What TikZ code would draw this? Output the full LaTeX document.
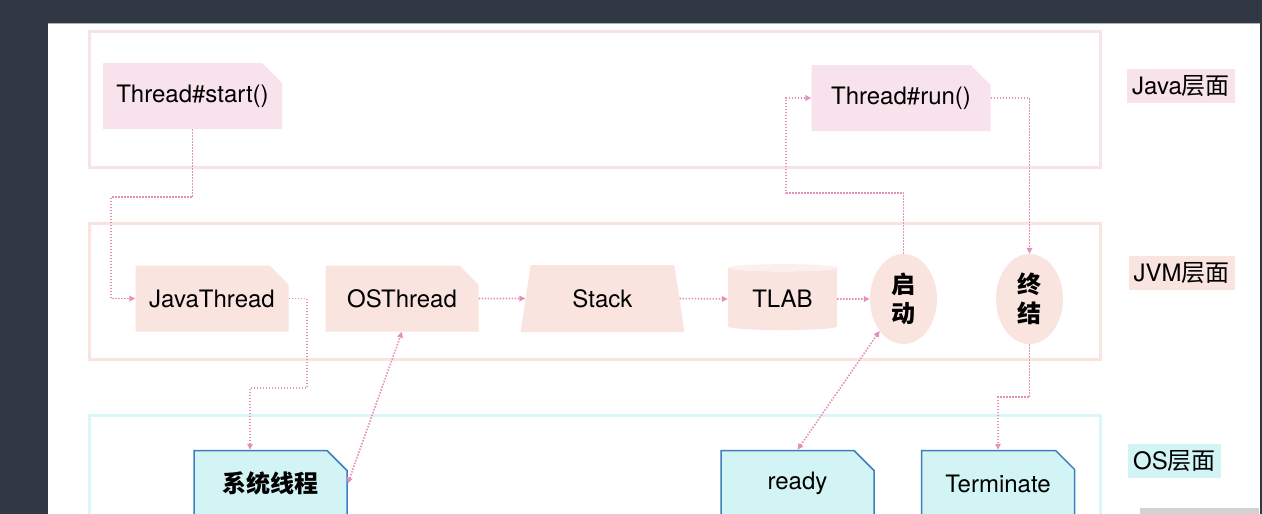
\documentclass[tikz,border=0pt]{standalone}
\usepackage{fontspec}
\setmainfont{TeX Gyre Heros}
\newfontfamily\cjk{Noto Sans CJK SC}
\usetikzlibrary{shapes.geometric,shapes.misc,arrows.meta,calc}

\definecolor{darkbg}{HTML}{2F3843}
\definecolor{javapink}{HTML}{F8E2EB}
\definecolor{jvmpeach}{HTML}{FAE4E0}
\definecolor{oscyan}{HTML}{D2F4F4}
\definecolor{osblue}{HTML}{3D7EBF}
\definecolor{linkpink}{HTML}{E590BA}

\tikzset{
  txt/.style={font=\fontsize{24}{29}\selectfont, text=black, inner sep=0pt},
  layer/.style={line width=3pt},
  notebox/.style={txt, chamfered rectangle, chamfered rectangle corners=north east,
    chamfered rectangle xsep=10pt, chamfered rectangle ysep=10pt,
    minimum width=#1, minimum height=66pt},
  javabox/.style={notebox=179pt, fill=javapink},
  jvmbox/.style={notebox=153pt, fill=jvmpeach},
  osbox/.style={notebox=153pt, fill=oscyan, draw=osblue, line width=1.5pt},
  stackbox/.style={txt, trapezium, trapezium stretches=true, trapezium left angle=77,
    trapezium right angle=77, minimum width=165pt, minimum height=67pt, fill=jvmpeach},
  tlabbox/.style={txt, cylinder, shape border rotate=90, aspect=0.12,
    minimum width=109pt, minimum height=66pt, cylinder uses custom fill,
    cylinder body fill=jvmpeach, cylinder end fill=jvmpeach!55},
  stepoval/.style={txt, ellipse, align=center, minimum width=67pt, minimum height=90pt, fill=jvmpeach},
  tag/.style={txt, fill=#1, minimum height=34pt, inner xsep=5pt},
  flow/.style={draw=linkpink, line width=1.6pt, dash pattern=on 1.5pt off 1.5pt,
    -{Triangle[length=6pt,width=5.5pt]}},
  flowboth/.style={flow, {Triangle[length=6pt,width=5.5pt]}-{Triangle[length=6pt,width=5.5pt]}},
}

\begin{document}
\begin{tikzpicture}[x=1pt, y=-1pt]
  \useasboundingbox (0,0) rectangle (1262,514);
  % screen around the slide
  \fill[darkbg] (0,0) rectangle (1262,514);
  \fill[white] (48,23) rectangle (1260,514);
  \draw[gray!60, line width=1pt] (48,23) -- (1260,23);
  \fill[gray!35] (1140,508) rectangle (1259,514);

  % layers
  \draw[layer, draw=javapink] (89,31) rectangle (1100,167);
  \draw[layer, draw=jvmpeach] (89,223) rectangle (1100,359);
  \draw[layer, draw=oscyan!80] (89,415) rectangle (1100,560);

  % java
  \node[javabox] (start) at (192.5,96) {Thread\#start()};
  \node[javabox] (run) at (901,98) {Thread\#run()};

  % jvm
  \node[jvmbox] (javat) at (212,298.5) {JavaThread};
  \node[jvmbox] (ost) at (402,298.5) {OSThread};
  \node[stackbox] (stack) at (602.5,298.5) {Stack};
  \node[tlabbox] (tlab) at (782.5,299) {TLAB};
  \node[stepoval] (qidong) at (903.5,299) {\cjk\bfseries 启\\\cjk\bfseries 动};
  \node[stepoval] (zhongjie) at (1029.5,299) {\cjk\bfseries 终\\\cjk\bfseries 结};

  % os
  \node[osbox] (sys) at (270.5,483.5) {\cjk\bfseries 系统线程};
  \node[osbox] (ready) at (797.5,483.5) {ready};
  \node[osbox] (term) at (998,483.5) {Terminate};

  % layer names
  \node[tag=javapink] (javatag) at (1181,86) {Java{\cjk 层面}};
  \node[tag=jvmpeach] (jvmtag) at (1181.5,273) {JVM{\cjk 层面}};
  \node[tag=oscyan] (ostag) at (1174.5,461) {OS{\cjk 层面}};

  % links
  \draw[flow] (start.south) -- ++(0,68) -- ++(-81.5,0) |- (javat.west);
  \draw[flow] (javat.east) -- ++(18,0) -- ++(0,89.5) -| ($(sys.north)+(-20.5,0)$);
  \draw[flowboth] (sys.east) -- (ost.south);
  \draw[flow] (ost.east) -- (stack.west);
  \draw[flow] (stack.east) -- (tlab.west);
  \draw[flow] (tlab.east) -- (qidong.west);
  \draw[flow] (qidong.north) -- ++(0,-61) -- ++(-117.5,0) |- (run.west);
  \draw[flow] (run.east) -| (zhongjie.north);
  \draw[flow] (zhongjie.south) -- ++(0,53) -| (term.north);
  \draw[flowboth] (ready.north) -- (qidong.south west);
\end{tikzpicture}
\end{document}
